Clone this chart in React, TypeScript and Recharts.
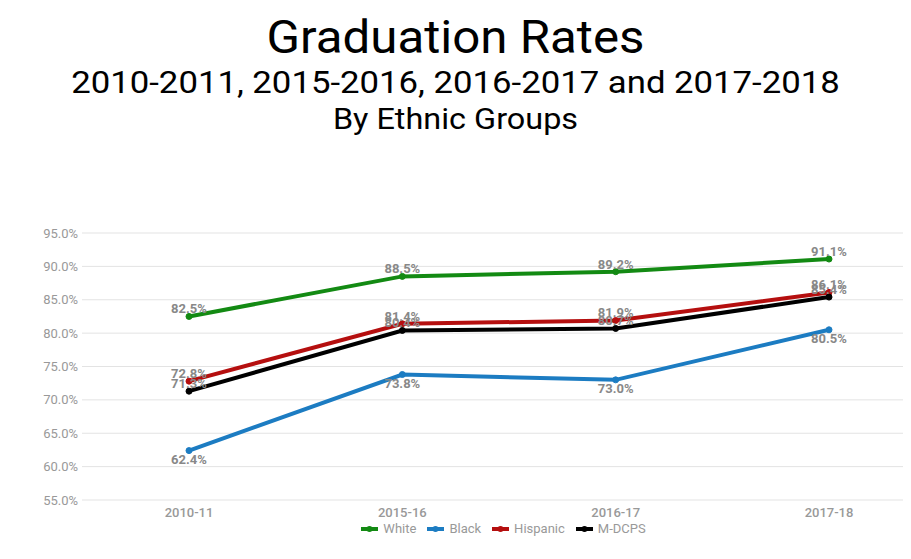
import { LineChart, Line, XAxis, YAxis, CartesianGrid, Legend, LabelList } from 'recharts';

const years = ['2010-11', '2015-16', '2016-17', '2017-18'];
const white = [82.5, 88.5, 89.2, 91.1];
const black = [62.4, 73.8, 73.0, 80.5];
const hispanic = [72.8, 81.4, 81.9, 86.1];
const mdcps = [71.3, 80.4, 80.7, 85.4];
const yTicks = [55, 60, 65, 70, 75, 80, 85, 90, 95];

const series = [
  { key: 'white', name: 'White', color: '#138a13', label: 'top' },
  { key: 'black', name: 'Black', color: '#1c7cc2', label: 'bottom' },
  { key: 'hispanic', name: 'Hispanic', color: '#b50f0f', label: 'top' },
  { key: 'mdcps', name: 'M-DCPS', color: '#000000', label: 'top' },
];

const data = years.map((year, i) => ({
  year,
  white: white[i],
  black: black[i],
  hispanic: hispanic[i],
  mdcps: mdcps[i],
}));

const font = 'Roboto, "Noto Sans", sans-serif';
const pct = (v: number) => `${v.toFixed(1)}%`;

const LegendContent = () => (
  <div style={{ display: 'flex', justifyContent: 'center', fontFamily: font, fontSize: 13, color: '#999' }}>
    {series.map((s) => (
      <div key={s.key} style={{ display: 'flex', alignItems: 'center', marginRight: 11 }}>
        <svg width={17} height={8} style={{ marginRight: 5 }}>
          <line x1={0} y1={4} x2={17} y2={4} stroke={s.color} strokeWidth={4} />
          <circle cx={8.5} cy={4} r={3} fill={s.color} />
        </svg>
        <span>{s.name}</span>
      </div>
    ))}
  </div>
);

export default function App() {
  return (
    <div style={{ margin: -8, width: 911, height: 559, overflow: 'hidden', position: 'relative', background: '#fff' }}>
      <div style={{ position: 'absolute', left: 0, width: 911, top: 0, textAlign: 'center', fontFamily: font, color: '#000' }}>
        <div style={{ position: 'absolute', width: 911, top: 10, fontSize: 46, lineHeight: '54px', transform: 'scaleX(1.07)' }}>
          Graduation Rates
        </div>
        <div style={{ position: 'absolute', width: 911, top: 64, fontSize: 31, lineHeight: '38px', transform: 'scaleX(1.12)' }}>
          2010-2011, 2015-2016, 2016-2017 and 2017-2018
        </div>
        <div style={{ position: 'absolute', width: 911, top: 100, fontSize: 30, lineHeight: '38px', transform: 'scaleX(1.08)' }}>
          By Ethnic Groups
        </div>
      </div>
      <LineChart width={911} height={559} data={data} margin={{ top: 233, right: 0, bottom: 29, left: 0 }}>
        <CartesianGrid vertical={false} stroke="#e3e3e3" />
        <XAxis
          dataKey="year"
          axisLine={false}
          tickLine={false}
          padding={{ left: 107, right: 82 }}
          tick={{ fill: '#999', fontSize: 13, fontFamily: font, fontWeight: 500 }}
        />
        <YAxis
          domain={[55, 95]}
          ticks={yTicks}
          width={82}
          axisLine={false}
          tickLine={false}
          tickSize={2}
          tickMargin={2}
          tickFormatter={pct}
          tick={{ fill: '#999', fontSize: 13, fontFamily: font }}
        />
        <Legend
          verticalAlign="middle"
          align="center"
          layout="horizontal"
          content={LegendContent}
          wrapperStyle={{ top: 521, left: 82, width: 854 }}
        />
        {series.map((s) => (
          <Line
            key={s.key}
            dataKey={s.key}
            name={s.name}
            stroke={s.color}
            strokeWidth={4}
            dot={{ r: 3, fill: s.color, stroke: s.color, strokeWidth: 1 }}
            activeDot={false}
            isAnimationActive={false}
          >
            <LabelList
              dataKey={s.key}
              position={s.label as 'top' | 'bottom'}
              offset={s.label === 'top' ? 3 : 4}
              formatter={(v: any) => pct(Number(v))}
              style={{ fill: '#888', fontSize: 13, fontFamily: font, fontWeight: 700 }}
            />
          </Line>
        ))}
      </LineChart>
    </div>
  );
}
